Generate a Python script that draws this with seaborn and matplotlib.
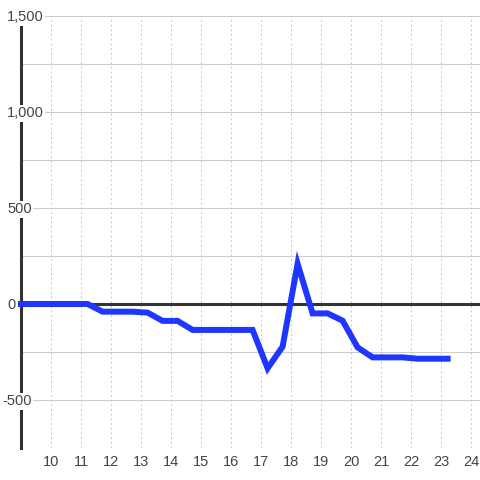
import numpy as np
import pandas as pd
import matplotlib
matplotlib.use("Agg")
import matplotlib.pyplot as plt
import matplotlib.transforms as mtransforms
import seaborn as sns
from matplotlib.ticker import MultipleLocator, NullLocator

# hour of day and value
hours = [9.0, 11.22, 11.72, 12.22, 12.72, 13.22, 13.72, 14.22, 14.72, 15.22,
         15.72, 16.22, 16.72, 17.22, 17.72, 18.22, 18.72, 19.22, 19.72, 20.22,
         20.72, 21.22, 21.72, 22.22, 22.72, 23.22]
values = [0, 0, -40, -40, -40, -45, -88, -88, -135, -135,
          -135, -135, -135, -335, -222, 210, -49, -49, -87, -226,
          -278, -278, -278, -285, -285, -285]

x_ticks = list(range(10, 25))
y_ticks = [-500, 0, 500, 1000, 1500]

df = pd.DataFrame({"hour": hours, "value": values})

sns.set_style("white")
plt.rcParams["font.family"] = ["Liberation Sans", "DejaVu Sans"]

fig = plt.figure(figsize=(4.8, 4.8), dpi=100)
ax = fig.add_axes([21 / 480, 32 / 480, 459 / 480, 432 / 480])

sns.lineplot(data=df, x="hour", y="value", ax=ax, color="#1f36ff",
             linewidth=4.3, solid_joinstyle="miter", solid_capstyle="projecting",
             clip_on=False, zorder=5)

ax.axhline(0, color="#333333", linewidth=2.2, zorder=4)

ax.set_xlim(9, 24.3)
ax.set_ylim(-750, 1500)

ax.set_xticks(x_ticks)
ax.xaxis.set_minor_locator(NullLocator())
ax.set_yticks(y_ticks)
ax.yaxis.set_minor_locator(MultipleLocator(250))

ax.set_axisbelow(True)
ax.grid(axis="x", which="major", color="#cccccc", linewidth=0.75,
        linestyle=(0, (2, 2.5)))
ax.grid(axis="y", which="both", color="#cccccc", linewidth=0.75)

for s in ["top", "right", "bottom"]:
    ax.spines[s].set_visible(False)
ax.spines["left"].set_color("#333333")
ax.spines["left"].set_linewidth(2.2)
ax.spines["left"].set_zorder(1)

ax.tick_params(axis="y", which="both", length=0, labelleft=False)
ax.tick_params(axis="x", length=0, pad=5, labelsize=10.5, labelcolor="#444444")

# y labels sit inside the plot, over the axis line
ytrans = mtransforms.offset_copy(ax.get_yaxis_transform(), fig=fig,
                                 y=-3.8, units="points")
for v in y_ticks:
    left_px = 2 if v < 0 else 7
    ax.text((left_px - 21) / 459, v, f"{v:,.0f}", transform=ytrans,
            ha="left", va="baseline", fontsize=10.5, color="#444444",
            clip_on=False, zorder=3,
            bbox=dict(facecolor="white", edgecolor="none", pad=1))

ax.set_xlabel("")
ax.set_ylabel("")

fig.savefig("out.png", dpi=100)
